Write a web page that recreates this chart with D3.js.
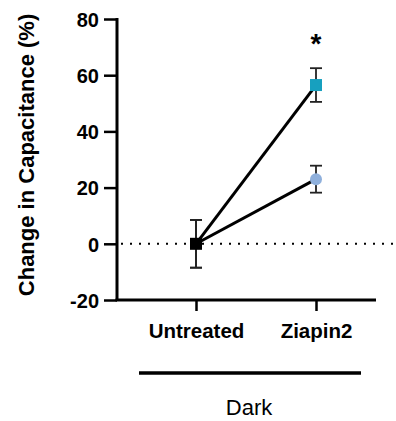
<!DOCTYPE html>
<html>
<head>
<meta charset="utf-8">
<script src="https://cdn.jsdelivr.net/npm/d3@7"></script>
<style>
  body { margin: 0; background: #fff; }
  text { font-family: Arial, "Liberation Sans", sans-serif; }
</style>
</head>
<body>
<script>
// values
const groups = ["Untreated", "Ziapin2"];
const yTicks = [-20, 0, 20, 40, 60, 80];
const squareMean = [0, 56.5];
const squareErr = [8.5, 6];
const circleMean = [0, 23];
const circleErr = [8.5, 4.8];
const sigLabel = "*";

const w = 396, h = 421;
const padLeft = 117, padTop = 19, axisBottom = 300, axisRight = 376;

const svg = d3.select("body").append("svg")
  .attr("width", w).attr("height", h);

const xScale = d3.scalePoint()
  .domain(groups)
  .range([196, 316]);

const yScale = d3.scaleLinear()
  .domain([-20, 80])
  .range([axisBottom, padTop]);

// dotted zero line
svg.append("line")
  .attr("x1", padLeft + 4).attr("x2", w)
  .attr("y1", yScale(0)).attr("y2", yScale(0))
  .attr("stroke", "#000")
  .attr("stroke-width", 2)
  .attr("stroke-dasharray", "2,7");

// y axis
const yAxis = d3.axisLeft(yScale).tickValues(yTicks).tickFormat(d => String(d))
  .tickSize(13).tickPadding(5);
const gy = svg.append("g")
  .attr("transform", "translate(" + padLeft + ",0)")
  .call(yAxis);
gy.select(".domain").attr("stroke-width", 3).attr("d", "M0," + (padTop - 1) + "V" + axisBottom);
gy.selectAll(".tick line").attr("stroke-width", 2.5);
gy.selectAll("text").attr("font-size", 20).attr("font-weight", "bold").attr("fill", "#000")
  .attr("dy", "0.36em");

// x axis
const xAxis = d3.axisBottom(xScale).tickSize(11).tickPadding(12);
const gx = svg.append("g")
  .attr("transform", "translate(0," + axisBottom + ")")
  .call(xAxis);
gx.select(".domain").attr("stroke-width", 3).attr("d", "M" + (padLeft - 1.5) + ",0H" + axisRight);
gx.selectAll(".tick line").attr("stroke-width", 2.5);
gx.selectAll("text").attr("font-size", 20.5).attr("font-weight", "bold").attr("fill", "#000");

// y title
svg.append("text")
  .attr("transform", "translate(26,155) rotate(-90)")
  .attr("text-anchor", "middle")
  .attr("dominant-baseline", "central")
  .attr("font-size", 22)
  .attr("font-weight", "bold")
  .text("Change in Capacitance (%)");

// group bar
svg.append("line")
  .attr("x1", 139).attr("x2", 361)
  .attr("y1", 373).attr("y2", 373)
  .attr("stroke", "#000").attr("stroke-width", 3.5);
svg.append("text")
  .attr("x", 249).attr("y", 415)
  .attr("text-anchor", "middle")
  .attr("font-size", 22)
  .text("Dark");

// error bars
function errBars(means, errs) {
  groups.forEach(function(g, i) {
    const x = xScale(g);
    const y1 = yScale(means[i] + errs[i]);
    const y2 = yScale(means[i] - errs[i]);
    svg.append("line").attr("x1", x).attr("x2", x).attr("y1", y1).attr("y2", y2)
      .attr("stroke", "#222").attr("stroke-width", 1.8);
    [y1, y2].forEach(function(y) {
      svg.append("line").attr("x1", x - 6).attr("x2", x + 6).attr("y1", y).attr("y2", y)
        .attr("stroke", "#222").attr("stroke-width", 1.8);
    });
  });
}
errBars(squareMean, squareErr);
errBars(circleMean, circleErr);

const line = d3.line()
  .x((d, i) => xScale(groups[i]))
  .y(d => yScale(d));

svg.append("path").datum(squareMean).attr("d", line)
  .attr("fill", "none").attr("stroke", "#000").attr("stroke-width", 3);
svg.append("path").datum(circleMean).attr("d", line)
  .attr("fill", "none").attr("stroke", "#000").attr("stroke-width", 3);

// markers
svg.append("circle")
  .attr("cx", xScale(groups[1])).attr("cy", yScale(circleMean[1]))
  .attr("r", 6).attr("fill", "#8fb0dc");
svg.append("rect")
  .attr("x", xScale(groups[1]) - 6).attr("y", yScale(squareMean[1]) - 6)
  .attr("width", 12).attr("height", 12).attr("fill", "#17a0bf");
svg.append("rect")
  .attr("x", xScale(groups[0]) - 6).attr("y", yScale(squareMean[0]) - 6)
  .attr("width", 12).attr("height", 12).attr("fill", "#000");

// significance
svg.append("text")
  .attr("x", xScale(groups[1])).attr("y", 53)
  .attr("text-anchor", "middle")
  .attr("font-size", 28).attr("font-weight", "bold")
  .text(sigLabel);
</script>
</body>
</html>
